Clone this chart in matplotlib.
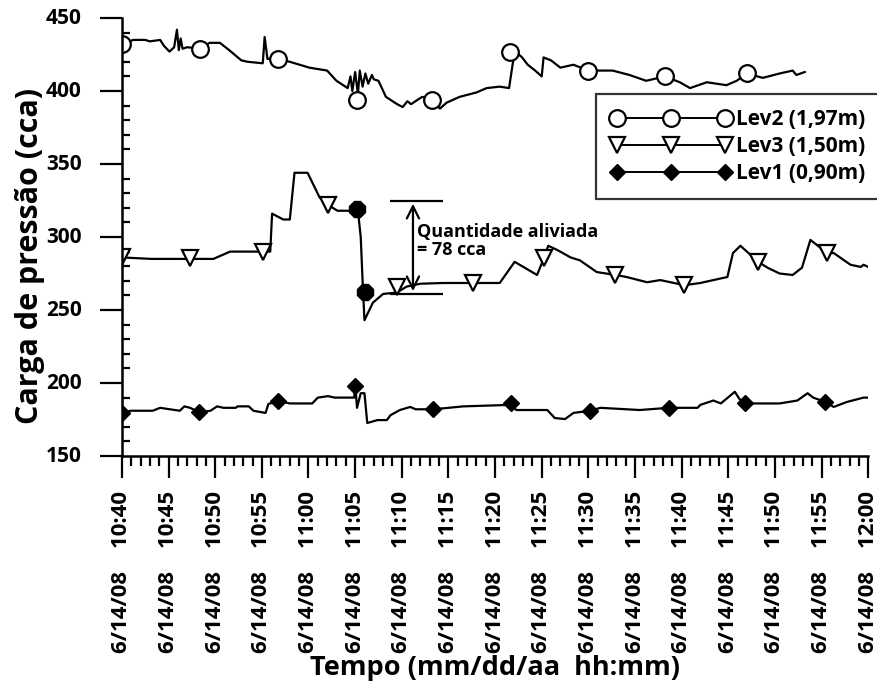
import numpy as np
import matplotlib.pyplot as plt
from matplotlib.lines import Line2D
from matplotlib.ticker import MultipleLocator, FixedLocator

plt.rcParams['font.family'] = ['Open Sans', 'DejaVu Sans']
plt.rcParams['font.weight'] = 'bold'

# minutes after 10:40
lev2_t = [0, 0.5, 1.2, 2.5, 3, 4.1, 4.5, 5.1, 5.6, 5.9, 6.1, 6.3, 6.5, 7, 8.4, 9.4, 10.5, 11.5,
          12.8, 13.5, 15.1, 15.3, 15.6, 16.7, 18, 20.1, 22, 23, 24.2, 24.5, 24.7, 25.0, 25.3,
          25.5, 25.8, 26.1, 26.4, 26.8, 27, 27.5, 28.3, 29.5, 30.1, 30.6, 31, 31.7, 32.2, 33.2,
          34.1, 34.8, 36.2, 38, 39.1, 40.5, 41.5, 41.9, 42.2, 42.9, 43.5, 44.3, 45, 45.2, 46, 47,
          48.4, 50, 52.6, 54.4, 56.2, 58.2, 59.8, 60.9, 62.7, 64.8, 65.9, 67, 68.7, 70.5, 71.9,
          72.3, 73.2]
lev2_v = [432, 433, 435, 435, 434, 435, 431, 427, 430, 442, 428, 436, 429, 430, 429, 433, 433, 428,
          421, 420, 419, 437, 422, 422, 420, 416, 414, 407, 402, 410, 400, 413, 398,
          414, 403, 412, 405, 411, 408, 407, 396, 391, 389, 393, 391, 394, 396, 394,
          388, 392, 396, 399, 402, 403, 402, 419, 427, 423, 418, 414, 410, 423, 421, 416,
          418, 414, 414, 411, 407, 410, 406, 402, 406, 404, 407, 412, 409, 412, 414,
          411, 413]
lev2_mk_t = [0, 8.4, 16.7, 25.2, 33.2, 41.6, 50, 58.2, 67]
lev2_mk_v = [432, 429, 422, 394, 394, 427, 414, 410, 412]

lev3_t = [0, 3.2, 7.3, 9.8, 11.6, 13.4, 15.1, 15.9, 16.1, 17.3, 18, 18.5, 19.9, 21.2, 22.1, 23.1,
          24.5, 25.3, 25.6, 25.8, 26.0, 26.9, 28, 29.5, 30.5, 32, 34.4, 37.6, 40.5, 42.1, 44.5,
          45.2, 45.7, 46.7, 48.1, 49.1, 50.9, 52.9, 54.1, 56.3, 57.7, 60.3, 62, 63.4, 64.9, 65.5,
          66.3, 68.2, 69.2, 70.5, 71.9, 72.9, 73.8, 75.6, 76.3, 78.1, 79.2, 79.5, 80]
lev3_v = [286, 285, 285, 285, 290, 290, 290, 290, 316, 312, 312, 344, 344, 327, 322, 318,
          318, 318, 300, 270, 243, 255, 261, 262, 266, 268, 268.5, 268.5, 268.5, 283, 274,
          285, 294, 291, 286, 284, 276, 274, 272.6, 269, 270.5, 267, 268.5, 270.5, 272.6, 289,
          294, 283, 279, 275, 274, 279, 298, 289, 289, 281, 279.5, 281, 279.5]
lev3_mk_t = [0, 7.3, 15.1, 22.1, 29.5, 37.6, 45.2, 52.9, 60.3, 68.2, 75.6]
lev3_mk_v = [286, 285.5, 290, 322, 266, 268.5, 285.6, 274, 267, 283, 289]

lev1_t = [0, 0.9, 3.3, 4.1, 6.2, 6.7, 7.3, 8.3, 9.5, 10.2, 10.9, 12.2, 12.4, 13.6, 14.1, 15.4,
          15.7, 16.7, 18, 20.4, 21, 22.1, 22.8, 24.9, 25.0, 25.2, 25.6, 26.0, 26.3, 27.4, 28.4,
          28.8, 29.8, 30.9, 31.5, 33.4, 36.6, 41.6, 42.3, 45.6, 46.4, 47.5, 48.4, 50.2, 51.3,
          55.5, 58.6, 61.7, 62, 63.4, 64.2, 65.7, 66.2, 66.8, 68.1, 70.5, 72.4, 73.5, 74.1,
          75.4, 76.3, 77.7, 79.5, 80]
lev1_v = [179.5, 181, 181, 183, 181, 184, 183, 180, 181, 184, 183, 183, 184, 184, 181, 179.5,
          185.6, 187.7, 186, 186, 190, 191, 190, 190, 200, 183, 193, 193, 172.6, 174.6, 174.6,
          178, 181.5, 183.6, 182, 182, 184, 185, 181.5, 181.5, 176, 175.3, 179.5, 181, 183,
          181.5, 183, 183, 185, 188, 186, 194, 189, 186, 186, 186, 188, 193, 190,
          187, 183.6, 187, 190, 190]
lev1_mk_t = [0, 8.3, 16.7, 25, 33.4, 41.7, 50.2, 58.6, 66.8, 75.4]
lev1_mk_v = [179.5, 180, 187.7, 198, 182, 186, 181, 183, 186, 187]

relief_t = [25.2, 26.1]
relief_v = [319, 262]
relief_top = 324.7
relief_bottom = 261

tick_times = ['10:40', '10:45', '10:50', '10:55', '11:00', '11:05', '11:10', '11:15', '11:20',
              '11:25', '11:30', '11:35', '11:40', '11:45', '11:50', '11:55', '12:00']
tick_labels = ['6/14/08    ' + h for h in tick_times]
y_ticks = [150, 200, 250, 300, 350, 400, 450]

fig = plt.figure(figsize=(8.77, 6.85), dpi=100)
ax = fig.add_axes([0.139, 0.3343, 0.851, 0.6394])

ax.tick_params(axis='y', which='major', direction='out', length=16, width=1.6,
               labelleft=False)
ax.tick_params(axis='y', which='minor', direction='in', length=6, width=1.6)
ax.tick_params(axis='x', which='major', direction='out', length=16, width=1.6, pad=9)
ax.tick_params(axis='x', which='minor', direction='out', length=7, width=1.6)

lw = 1.6
ax.plot(lev2_t, lev2_v, 'k-', lw=lw)
ax.plot(lev2_mk_t, lev2_mk_v, 'o', ms=12, mfc='white', mec='k', mew=1.6)
ax.plot(lev3_t, lev3_v, 'k-', lw=lw)
ax.plot(lev3_mk_t, lev3_mk_v, 'v', ms=12, mfc='white', mec='k', mew=1.6)
ax.plot(lev1_t, lev1_v, 'k-', lw=lw)
ax.plot(lev1_mk_t, lev1_mk_v, 'D', ms=8, mfc='k', mec='k')
ax.plot(relief_t, relief_v, '8', ms=13, mfc='k', mec='k')

# relief annotation
ax.hlines([relief_top, relief_bottom], 28.7, 34.4, colors='k', lw=1.6)
ax.annotate('', xy=(31.2, relief_top), xytext=(31.2, relief_bottom),
            arrowprops=dict(arrowstyle='<->', lw=1.6, color='k', mutation_scale=22))
ax.text(31.6, 297, 'Quantidade aliviada\n= 78 cca', fontsize=13, fontweight='bold',
        va='center', ha='left', linespacing=1.0)

ax.set_xlim(0, 80)
ax.set_ylim(150, 450)
ax.xaxis.set_major_locator(FixedLocator(np.arange(0, 81, 5)))
ax.xaxis.set_minor_locator(MultipleLocator(1))
ax.set_xticklabels(tick_labels, rotation=90, fontsize=16, fontweight='bold')
ax.yaxis.set_major_locator(FixedLocator(y_ticks))
ax.yaxis.set_minor_locator(MultipleLocator(10))

# y tick labels placed by hand, a fixed gap left of the outward ticks
ytrans = ax.get_yaxis_transform()
for v in y_ticks:
    ax.text(-0.054, v, str(v), transform=ytrans, ha='right', va='center',
            fontsize=15, fontweight='bold')

for s in ['top', 'right']:
    ax.spines[s].set_visible(False)
for s in ['left', 'bottom']:
    ax.spines[s].set_linewidth(1.8)

ax.set_ylabel('Carga de pressão (cca)', fontsize=22, fontweight='bold')
ax.yaxis.set_label_coords(-0.103, 0.456)
ax.set_xlabel('Tempo (mm/dd/aa  hh:mm)', fontsize=19.5, fontweight='bold')
ax.xaxis.set_label_coords(0.5, -0.455)

handles = [
    Line2D([0], [0], color='k', lw=1.4, marker='o', ms=12, mfc='white', mec='k', mew=1.6),
    Line2D([0], [0], color='k', lw=1.4, marker='v', ms=12, mfc='white', mec='k', mew=1.6),
    Line2D([0], [0], color='k', lw=1.4, marker='D', ms=8, mfc='k', mec='k'),
]
leg = ax.legend(handles, ['Lev2 (1,97m)', 'Lev3 (1,50m)', 'Lev1 (0,90m)'],
                loc='upper right', bbox_to_anchor=(1.016, 0.826), numpoints=3,
                handlelength=5.8, fontsize=15, frameon=True, fancybox=False,
                borderpad=0.7, labelspacing=0.3, handletextpad=0.25, borderaxespad=0)
leg.get_frame().set_edgecolor('k')
leg.get_frame().set_linewidth(1.6)

fig.savefig('out.png', dpi=100)
